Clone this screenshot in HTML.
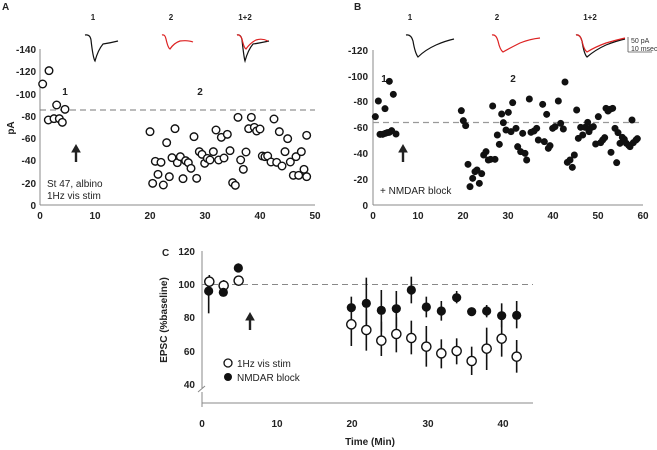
<!DOCTYPE html>
<html><head><meta charset="utf-8"><style>
html,body{margin:0;padding:0;background:#fff;}
svg{display:block;font-family:"Liberation Sans",Arial,sans-serif;}
.t{font-size:10px;font-weight:bold;fill:#222;}
.n{font-size:10px;fill:#222;}
</style></head><body>
<svg id="s" width="657" height="450" viewBox="0 0 657 450" xmlns="http://www.w3.org/2000/svg">
<text x="2" y="10" class="t">A</text>
<g stroke="#888" stroke-width="1" fill="none">
<line x1="40" y1="49" x2="40" y2="205"/><line x1="40" y1="205" x2="315" y2="205"/>
</g>
<line x1="40" y1="110" x2="315" y2="110" stroke="#777" stroke-dasharray="6,4"/>
<g class="t" text-anchor="end">
<text x="36" y="53">-140</text><text x="36" y="75">-120</text><text x="36" y="98">-100</text><text x="36" y="120">-80</text><text x="36" y="142">-60</text><text x="36" y="164">-40</text><text x="36" y="187">-20</text><text x="36" y="209">0</text>
</g>
<g class="t" text-anchor="middle">
<text x="40" y="219">0</text><text x="95" y="219">10</text><text x="150" y="219">20</text><text x="205" y="219">30</text><text x="260" y="219">40</text><text x="315" y="219">50</text>
<text x="65" y="95">1</text><text x="200" y="95">2</text>
<text x="93" y="20" style="font-size:8px">1</text><text x="171" y="20" style="font-size:8px">2</text><text x="245" y="20" style="font-size:8px">1+2</text>
</g>
<text x="14" y="128" class="t" transform="rotate(-90 14 128)" text-anchor="middle">pA</text>
<text x="47" y="187" class="n">St 47, albino</text><text x="47" y="199" class="n">1Hz vis stim</text>
<g id="ga"></g>
<text x="354" y="10" class="t">B</text>
<g stroke="#888" stroke-width="1" fill="none">
<line x1="373" y1="50" x2="373" y2="205"/><line x1="373" y1="205" x2="643" y2="205"/>
</g>
<line x1="373" y1="122.5" x2="643" y2="122.5" stroke="#999" stroke-dasharray="6,4" stroke-width="1.3"/>
<g class="t" text-anchor="end">
<text x="368" y="54">-120</text><text x="368" y="80">-100</text><text x="368" y="105">-80</text><text x="368" y="131">-60</text><text x="368" y="157">-40</text><text x="368" y="183">-20</text><text x="368" y="209">0</text>
</g>
<g class="t" text-anchor="middle">
<text x="373" y="219">0</text><text x="418" y="219">10</text><text x="463" y="219">20</text><text x="508" y="219">30</text><text x="553" y="219">40</text><text x="598" y="219">50</text><text x="643" y="219">60</text>
<text x="384" y="82">1</text><text x="513" y="82">2</text>
<text x="410" y="20" style="font-size:8px">1</text><text x="497" y="20" style="font-size:8px">2</text><text x="590" y="20" style="font-size:8px">1+2</text>
</g>
<text x="380" y="194" class="n">+ NMDAR block</text>
<line x1="628" y1="37" x2="628" y2="52" stroke="#555" stroke-width="0.8"/><line x1="628" y1="52" x2="652" y2="52" stroke="#555" stroke-width="0.8"/>
<text x="631" y="43" style="font-size:7px" fill="#333">50 pA</text><text x="631" y="51" style="font-size:7px" fill="#333">10 msec</text>
<g id="gb"></g>
<g fill="none" stroke-width="1.2">
<path d="M85,35 Q90,34 91,40 Q93,58 95,61 Q98,50 103,44 Q110,43 118,41" stroke="#111"/>
<path d="M162,35 Q165,34 166,39 Q168,48 170,49 Q174,43 180,41 Q188,40 193,42" stroke="#d22"/>
<path d="M237,35 Q241,34 242,40 Q244,58 245,61 Q248,50 253,44 Q260,43 269,41" stroke="#111"/>
<path d="M237,35 Q240,34 242,39 Q244,48 246,49 Q250,43 256,40 Q262,38 268,41" stroke="#d22"/>
<path d="M406,35 Q411,34 413,41 Q415,53 418,57 Q425,50 436,45 Q445,41 454,39" stroke="#111"/>
<path d="M492,35 Q496,34 498,41 Q500,50 503,52 Q510,48 520,43 Q530,39 540,38" stroke="#d22"/>
<path d="M576,35 Q580,34 582,41 Q584,54 587,57 Q595,50 606,45 Q616,41 625,39" stroke="#111"/>
<path d="M576,35 Q580,34 582,41 Q584,50 587,52 Q595,47 606,43 Q616,40 625,38" stroke="#d22"/>
</g>
<g stroke="#222" stroke-width="2.4" fill="#222">
<line x1="76" y1="162" x2="76" y2="151"/><path d="M72,152 L76,145 L80,152 Z" stroke-width="1"/>
<line x1="403" y1="162" x2="403" y2="151"/><path d="M399,152 L403,145 L407,152 Z" stroke-width="1"/>
<line x1="250" y1="330" x2="250" y2="319"/><path d="M246,320 L250,313 L254,320 Z" stroke-width="1"/>
</g>
<text x="162" y="256" class="t">C</text>
<g stroke="#888" stroke-width="1" fill="none">
<line x1="202" y1="251" x2="202" y2="388"/><line x1="202" y1="392" x2="202" y2="407"/>
<path d="M198,392 L205,386" /><line x1="202" y1="403" x2="533" y2="403"/>
</g>
<line x1="202" y1="284.5" x2="533" y2="284.5" stroke="#888" stroke-dasharray="6,4"/>
<g class="t" text-anchor="end">
<text x="195" y="255">120</text><text x="195" y="288">100</text><text x="195" y="321">80</text><text x="195" y="355">60</text><text x="195" y="388">40</text>
</g>
<g class="t" text-anchor="middle">
<text x="202" y="427">0</text><text x="277" y="427">10</text><text x="352" y="427">20</text><text x="428" y="427">30</text><text x="503" y="427">40</text>
<text x="370" y="445">Time (Min)</text>
</g>
<text x="167" y="320" class="t" transform="rotate(-90 167 320)" text-anchor="middle">EPSC (%baseline)</text>
<circle cx="228" cy="363" r="4" fill="#fff" stroke="#111" stroke-width="1.3"/><text x="237" y="367" class="n">1Hz vis stim</text>
<circle cx="228" cy="377" r="4" fill="#111"/><text x="237" y="381" class="n">NMDAR block</text>
<g id="gc"></g>
</svg>
<script>
var NS="http://www.w3.org/2000/svg";
function c(g,x,y,open,r){var e=document.createElementNS(NS,"circle");e.setAttribute("cx",x);e.setAttribute("cy",y);e.setAttribute("r",r);
if(open){e.setAttribute("fill","#fff");e.setAttribute("stroke","#111");e.setAttribute("stroke-width","1.4");}else e.setAttribute("fill","#111");g.appendChild(e);}
function l(g,x,y1,y2){var e=document.createElementNS(NS,"line");e.setAttribute("x1",x);e.setAttribute("x2",x);e.setAttribute("y1",y1);e.setAttribute("y2",y2);e.setAttribute("stroke","#111");e.setAttribute("stroke-width","1.6");g.appendChild(e);}
var A=[[128,252],[147,212],[145,360],[162,356],[170,315],[178,356],[187,367],[195,328],
[450,395],[458,550],[466,484],[474,523],[483,487],[490,555],[500,428],[508,530],[516,473],[525,386],[532,488],[541,470],[549,536],[557,482],[565,488],[573,505],[582,410],[590,535],[598,455],[606,463],[614,490],[622,475],[630,480],[640,455],[648,390],[656,480],[664,412],[672,474],[682,403],[690,452],[698,548],[706,556],[714,352],[722,480],[730,508],[738,456],[746,386],[754,352],[763,382],[770,393],[780,387],[787,468],[795,470],[803,468],[813,486],[822,357],[830,487],[838,395],[846,498],[855,455],[863,416],[871,486],[880,526],[888,470],[896,526],[904,455],[912,508],[920,530],[920,406]];
var ga=document.getElementById("ga");A.forEach(function(p){c(ga,p[0]/3,p[1]/3,true,3.8);});
var B=[[136,350],[145,303],[150,403],[158,403],[166,400],[172,398],[178,397],[185,392],[198,402],[165,326],[178,244],[190,283],
[394,332],[400,362],[407,377],[414,493],[420,560],[428,535],[435,515],[441,510],[448,550],[455,521],[461,465],[468,455],[475,480],[482,478],[488,318],[495,478],[502,405],[508,433],[515,342],[520,368],[528,390],[535,337],[543,395],[548,308],[558,385],[563,440],[572,455],[578,400],[585,460],[590,480],[598,297],[603,397],[612,393],[620,385],[625,420],[638,313],[643,425],[650,343],[655,445],[660,437],[668,385],[675,380],[685,303],[692,370],[700,387],[705,246],[712,487],[720,480],[727,502],[733,465],[740,330],[745,415],[752,382],[758,405],[765,382],[773,367],[777,395],[783,383],[790,380],[797,432],[805,350],[812,428],[818,420],[824,413],[828,325],[834,333],[840,328],[843,457],[848,325],[855,385],[860,488],[864,398],[870,430],[877,412],[883,418],[889,430],[896,436],[900,440],[906,360],[910,428],[918,420],[922,416]];
var gb=document.getElementById("gb");B.forEach(function(p){c(gb,330+p[0]/3,p[1]/3,false,3.5);});
var gc=document.getElementById("gc");
var F=[[266,183,143,250],[310,187,180,192],[355,114,100,125],[694,233,200,265],[739,220,143,300],[784,241,180,305],[829,236,183,290],[874,180,140,220],[919,231,200,262],[964,243,213,272],[1010,203,183,220],[1055,245,235,253],[1100,243,225,262],[1145,257,220,292],[1190,256,213,295]];
var O=[[268,155,135,175],[311,167,150,185],[356,152,140,160],[694,283,263,348],[739,300,240,362],[784,332,275,378],[829,312,262,367],[874,324,272,373],[919,350,288,410],[964,370,328,415],[1010,363,325,403],[1055,393,350,435],[1100,356,293,420],[1145,326,273,380],[1190,380,330,428]];
F.forEach(function(p){l(gc,120+p[0]/3,230+p[2]/3,230+p[3]/3);});
O.forEach(function(p){l(gc,120+p[0]/3,230+p[2]/3,230+p[3]/3);});
O.forEach(function(p){c(gc,120+p[0]/3,230+p[1]/3,true,4.6);});
F.forEach(function(p){c(gc,120+p[0]/3,230+p[1]/3,false,4.6);});
</script>
</body></html>
